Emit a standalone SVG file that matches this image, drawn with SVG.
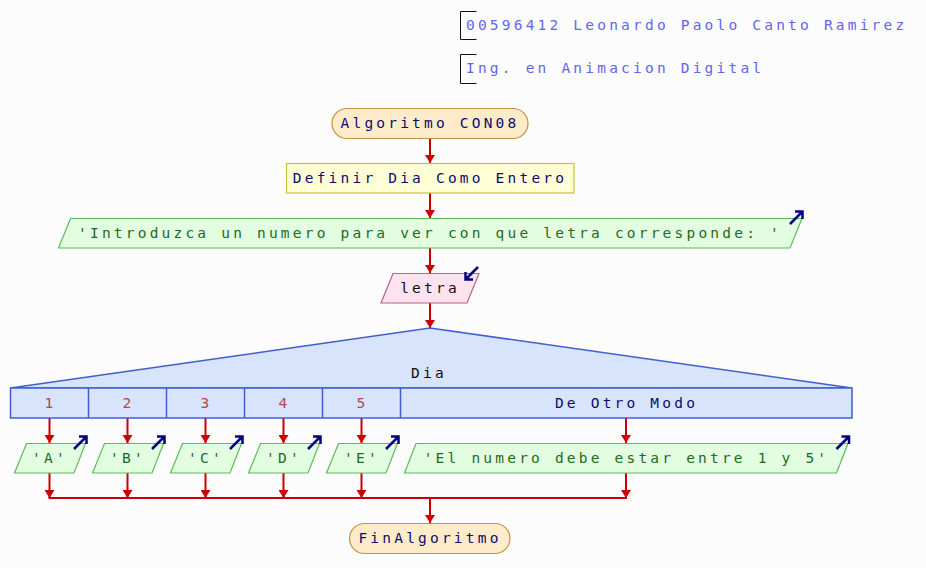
<svg xmlns="http://www.w3.org/2000/svg" width="926" height="568" viewBox="0 0 926 568">
<defs>
<style>
text{font-family:"DejaVu Sans Mono","Liberation Mono",monospace;font-size:14.5px;letter-spacing:3.2px}
.c{text-anchor:middle}
.hdr{fill:#6464f0}
.term{fill:#fdebc9;stroke:#c8903c;stroke-width:1.2}
.proc{fill:#ffffd6;stroke:#c8c040;stroke-width:1.2}
.out{fill:#e2fde0;stroke:#5cbc5c;stroke-width:1.2}
.inp{fill:#fde2ef;stroke:#c06080;stroke-width:1.2}
.sw{fill:#d7e4fc;stroke:#3f5fcf;stroke-width:1.5}
.tn{fill:#0c0c70}
.tg{fill:#1f6a1f}
.tk{fill:#101010}
.tr{fill:#b04848}
.flow{fill:none;stroke:#cc0000;stroke-width:2}
.ico{fill:none;stroke:#000080;stroke-width:2.5}
</style>
<marker id="ah" viewBox="0 -5 8 10" refX="8" refY="0" markerWidth="8" markerHeight="10" markerUnits="userSpaceOnUse" orient="auto">
<path d="M0,-5 L8,0 L0,5 z" fill="#cc0000"/>
</marker>
<path id="oicon" class="ico" d="M-12.5,12.5 L0,0 M-7.5,0 L0,0 L0,7.5"/>
<path id="iicon" class="ico" d="M12.5,-12.5 L0,0 M7.5,0 L0,0 L0,-7.5"/>
</defs>
<rect width="926" height="568" fill="#fcfcfc"/>

<g id="header">
<path d="M476.5,11.5 H460.5 V39.5 H476.5" fill="none" stroke="#111" stroke-width="1"/>
<text class="hdr" x="466" y="30">00596412 Leonardo Paolo Canto Ramirez</text>
<path d="M476.5,54.5 H460.5 V83.5 H476.5" fill="none" stroke="#111" stroke-width="1"/>
<text class="hdr" x="466" y="73">Ing. en Animacion Digital</text>
</g>

<g id="connectors">
<line class="flow" x1="430" y1="138" x2="430" y2="163" marker-end="url(#ah)"/>
<line class="flow" x1="430" y1="193" x2="430" y2="218" marker-end="url(#ah)"/>
<line class="flow" x1="430" y1="248" x2="430" y2="273" marker-end="url(#ah)"/>
<line class="flow" x1="430" y1="303" x2="430" y2="328" marker-end="url(#ah)"/>
<line class="flow" x1="49.5" y1="418" x2="49.5" y2="443" marker-end="url(#ah)"/>
<line class="flow" x1="127.5" y1="418" x2="127.5" y2="443" marker-end="url(#ah)"/>
<line class="flow" x1="205.5" y1="418" x2="205.5" y2="443" marker-end="url(#ah)"/>
<line class="flow" x1="283.5" y1="418" x2="283.5" y2="443" marker-end="url(#ah)"/>
<line class="flow" x1="361.5" y1="418" x2="361.5" y2="443" marker-end="url(#ah)"/>
<line class="flow" x1="626" y1="418" x2="626" y2="443" marker-end="url(#ah)"/>
<line class="flow" x1="49.5" y1="473" x2="49.5" y2="498" marker-end="url(#ah)"/>
<line class="flow" x1="127.5" y1="473" x2="127.5" y2="498" marker-end="url(#ah)"/>
<line class="flow" x1="205.5" y1="473" x2="205.5" y2="498" marker-end="url(#ah)"/>
<line class="flow" x1="283.5" y1="473" x2="283.5" y2="498" marker-end="url(#ah)"/>
<line class="flow" x1="361.5" y1="473" x2="361.5" y2="498" marker-end="url(#ah)"/>
<line class="flow" x1="626" y1="473" x2="626" y2="498" marker-end="url(#ah)"/>
<line class="flow" x1="48.5" y1="498" x2="627" y2="498"/>
<line class="flow" x1="430" y1="498" x2="430" y2="523" marker-end="url(#ah)"/>
</g>

<g id="start">
<rect class="term" x="332" y="108.5" width="196" height="30" rx="15" ry="15"/>
<text class="c tn" x="430" y="128">Algoritmo CON08</text>
</g>

<g id="definir">
<rect class="proc" x="286.5" y="163.5" width="287.5" height="29.5"/>
<text class="c tn" x="430" y="183">Definir Dia Como Entero</text>
</g>

<g id="escribir1">
<polygon class="out" points="70.5,218.5 802,218.5 790,248 58.5,248"/>
<text class="c tg" x="430" y="238">'Introduzca un numero para ver con que letra corresponde: '</text>
<use href="#oicon" x="802.5" y="211.5"/>
</g>

<g id="leer">
<polygon class="inp" points="393,273.5 479,273.5 467,303 381,303"/>
<text class="c tk" x="430" y="293">letra</text>
<use href="#iicon" x="465.5" y="279.5"/>
</g>

<g id="segun">
<polygon class="sw" points="10.5,388 430,328 852,388"/>
<text class="c tk" x="429" y="378">Dia</text>
<rect class="sw" x="10.5" y="388" width="841.5" height="30"/>
<line x1="88.5" y1="388" x2="88.5" y2="418" stroke="#3f5fcf" stroke-width="1.5"/>
<line x1="166.5" y1="388" x2="166.5" y2="418" stroke="#3f5fcf" stroke-width="1.5"/>
<line x1="244.5" y1="388" x2="244.5" y2="418" stroke="#3f5fcf" stroke-width="1.5"/>
<line x1="322.5" y1="388" x2="322.5" y2="418" stroke="#3f5fcf" stroke-width="1.5"/>
<line x1="400.5" y1="388" x2="400.5" y2="418" stroke="#3f5fcf" stroke-width="1.5"/>
<text class="c tr" x="50.5" y="408">1</text>
<text class="c tr" x="128.5" y="408">2</text>
<text class="c tr" x="206.5" y="408">3</text>
<text class="c tr" x="284.5" y="408">4</text>
<text class="c tr" x="362.5" y="408">5</text>
<text class="c tn" x="626.5" y="408">De Otro Modo</text>
</g>

<g id="outA">
<polygon class="out" points="26.5,443.5 85.5,443.5 74,473 14.5,473"/>
<text class="c tg" x="50" y="463">'A'</text>
<use href="#oicon" x="86.5" y="436.5"/>
</g>
<g id="outB">
<polygon class="out" points="104.5,443.5 163.5,443.5 152,473 92.5,473"/>
<text class="c tg" x="128" y="463">'B'</text>
<use href="#oicon" x="164.5" y="436.5"/>
</g>
<g id="outC">
<polygon class="out" points="182.5,443.5 241.5,443.5 230,473 170.5,473"/>
<text class="c tg" x="206" y="463">'C'</text>
<use href="#oicon" x="242.5" y="436.5"/>
</g>
<g id="outD">
<polygon class="out" points="260.5,443.5 319.5,443.5 308,473 248.5,473"/>
<text class="c tg" x="284" y="463">'D'</text>
<use href="#oicon" x="320.5" y="436.5"/>
</g>
<g id="outE">
<polygon class="out" points="338.5,443.5 397.5,443.5 386,473 326.5,473"/>
<text class="c tg" x="362" y="463">'E'</text>
<use href="#oicon" x="398.5" y="436.5"/>
</g>
<g id="outOtro">
<polygon class="out" points="416,443.5 848,443.5 836.5,473 404.5,473"/>
<text class="c tg" x="626.5" y="463">'El numero debe estar entre 1 y 5'</text>
<use href="#oicon" x="849" y="436.5"/>
</g>

<g id="fin">
<rect class="term" x="349.5" y="523.5" width="160.5" height="30" rx="15" ry="15"/>
<text class="c tn" x="430" y="543">FinAlgoritmo</text>
</g>
</svg>
